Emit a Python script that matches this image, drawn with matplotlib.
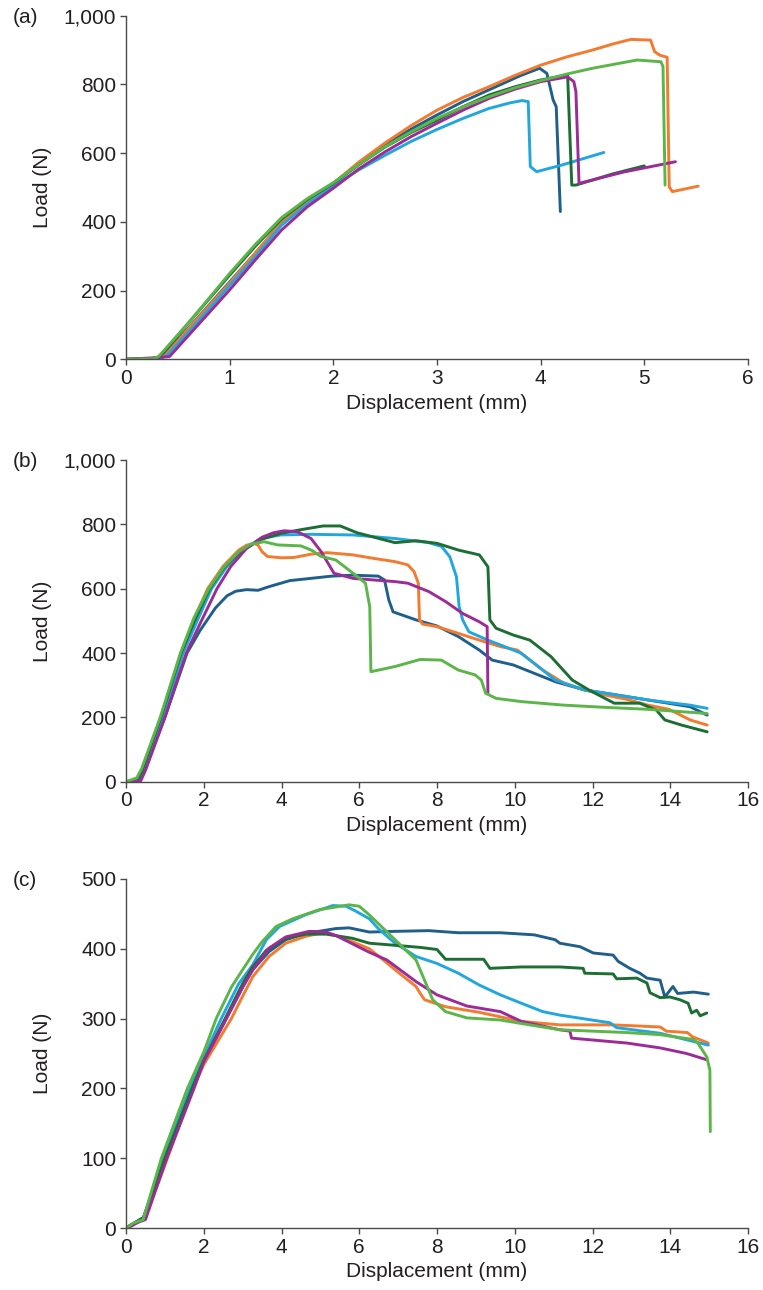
import matplotlib
matplotlib.use('Agg')
import matplotlib.pyplot as plt
from matplotlib.ticker import FuncFormatter

plt.rcParams['font.family'] = ['Liberation Sans', 'DejaVu Sans']
plt.rcParams['font.size'] = 15

# colours of the six specimens
DBLUE = '#1f5f8b'
ORANGE = '#f37a2e'
LBLUE = '#22a6de'
DGREEN = '#1c6e34'
PURPLE = '#9b2c97'
LGREEN = '#5bb548'

# ---- panel (a) ----
A_DBLUE_X = [0, 0.3, 0.35, 0.6, 1.0, 1.25, 1.5, 1.75, 2.0, 2.25, 2.5, 2.75, 3.0, 3.25, 3.5, 3.8, 3.99,
             4.06, 4.12, 4.15, 4.19]
A_DBLUE_Y = [0, 3, 10, 90, 225, 310, 398, 460, 512, 572, 625, 670, 711, 750, 784, 825, 847,
             832, 755, 735, 430]
A_ORANGE_X = [0, 0.32, 0.38, 0.6, 1.0, 1.25, 1.5, 1.75, 2.0, 2.25, 2.5, 2.75, 3.0, 3.25, 3.5, 3.75, 4.0,
              4.25, 4.5, 4.7, 4.87, 5.06, 5.10, 5.15, 5.22, 5.24, 5.27, 5.52]
A_ORANGE_Y = [0, 3, 12, 88, 222, 310, 398, 460, 512, 575, 630, 680, 725, 762, 793, 826, 856,
              880, 900, 918, 931, 929, 895, 885, 879, 502, 488, 504]
A_LBLUE_X = [0, 0.34, 0.4, 0.65, 1.0, 1.25, 1.5, 1.75, 2.0, 2.25, 2.5, 2.75, 3.0, 3.25, 3.5, 3.7, 3.82,
             3.88, 3.90, 3.96, 4.2, 4.61]
A_LBLUE_Y = [0, 3, 12, 95, 215, 300, 390, 452, 505, 552, 594, 634, 669, 701, 730, 746, 753,
             750, 561, 546, 565, 602]
A_DGREEN_X = [0, 0.28, 0.33, 0.6, 1.0, 1.25, 1.5, 1.75, 2.0, 2.25, 2.5, 2.75, 3.0, 3.25, 3.5, 3.75, 4.0,
              4.26, 4.30, 4.34, 4.7, 5.0]
A_DGREEN_Y = [0, 2, 10, 105, 245, 330, 408, 465, 512, 567, 618, 660, 696, 735, 769, 793, 813,
              827, 507, 507, 540, 563]
A_PURPLE_X = [0, 0.3, 0.42, 0.65, 1.0, 1.25, 1.5, 1.75, 2.0, 2.25, 2.5, 2.75, 3.0, 3.25, 3.5, 3.75, 4.0,
              4.26, 4.32, 4.34, 4.37, 4.8, 5.3]
A_PURPLE_Y = [0, 5, 8, 85, 202, 290, 376, 444, 498, 555, 604, 648, 687, 725, 759, 786, 808,
              822, 808, 779, 512, 545, 575]
A_LGREEN_X = [0, 0.28, 0.32, 0.6, 1.0, 1.25, 1.5, 1.75, 2.0, 2.25, 2.5, 2.75, 3.0, 3.25, 3.5, 3.75, 4.0,
              4.25, 4.5, 4.75, 4.93, 5.16, 5.18, 5.20]
A_LGREEN_Y = [0, 2, 10, 105, 250, 335, 412, 468, 514, 568, 619, 662, 701, 735, 764, 790, 811,
              830, 847, 861, 871, 866, 852, 507]

# ---- panel (b) ----
B_DBLUE_X = [0, 0.35, 0.48, 1.0, 1.57, 1.91, 2.3, 2.6, 2.82, 3.1, 3.4, 3.67, 4.21, 4.75, 5.29, 5.84, 6.49,
             6.65, 6.76, 6.87, 7.46, 8.0, 8.55, 9.09, 9.42, 9.96, 10.5, 11.04, 11.8, 12.34, 13.43, 14.51, 14.95]
B_DBLUE_Y = [0, 3, 35, 200, 400, 471, 540, 578, 592, 597, 595, 606, 625, 632, 639, 642, 639,
             627, 565, 528, 503, 484, 451, 409, 378, 363, 337, 311, 285, 275, 254, 233, 207]
B_ORANGE_X = [0, 0.3, 0.42, 0.9, 1.42, 1.75, 2.1, 2.5, 2.9, 3.1, 3.29, 3.4, 3.5, 3.64, 4.0, 4.32, 4.75,
              5.18, 5.84, 6.38, 6.92, 7.25, 7.41, 7.52, 7.55, 7.63, 8.0, 8.55, 9.09, 9.63, 10.07, 10.17,
              10.72, 11.27, 11.8, 12.34, 12.88, 13.43, 13.97, 14.51, 14.95]
B_ORANGE_Y = [0, 5, 40, 200, 400, 505, 600, 670, 720, 735, 741, 735, 715, 700, 696, 697, 707,
              712, 705, 694, 684, 674, 653, 617, 503, 490, 482, 461, 440, 420, 409, 399,
              347, 306, 285, 269, 256, 238, 225, 192, 176]
B_LBLUE_X = [0, 0.32, 0.45, 0.95, 1.47, 1.85, 2.2, 2.6, 3.0, 3.47, 3.98, 4.75, 5.84, 6.92, 7.79, 8.12,
             8.33, 8.5, 8.57, 8.66, 8.82, 9.31, 9.74, 10.17, 10.72, 11.04, 11.8, 12.34, 13.43, 14.51, 14.95]
B_LBLUE_Y = [0, 3, 35, 200, 400, 505, 600, 670, 720, 756, 767, 769, 767, 756, 743, 731,
             699, 637, 544, 503, 466, 440, 420, 399, 347, 316, 285, 275, 254, 238, 228]
B_DGREEN_X = [0, 0.3, 0.42, 0.9, 1.42, 1.78, 2.15, 2.5, 2.9, 3.47, 3.99, 4.53, 5.07, 5.51, 5.94, 6.38,
              6.92, 7.46, 8.0, 8.55, 9.09, 9.31, 9.36, 9.52, 9.96, 10.39, 10.93, 11.48, 11.91, 12.56,
              13.21, 13.64, 13.86, 14.29, 14.95]
B_DGREEN_Y = [0, 5, 35, 200, 400, 505, 600, 662, 712, 753, 772, 784, 795, 795, 774, 760,
              743, 749, 741, 720, 705, 668, 503, 477, 456, 440, 389, 316, 285, 244,
              244, 223, 192, 176, 155]
B_PURPLE_X = [0, 0.38, 0.5, 1.0, 1.55, 1.9, 2.34, 2.7, 3.1, 3.5, 3.8, 4.07, 4.41, 4.76, 5.02, 5.35, 5.84,
              6.38, 6.92, 7.25, 7.79, 8.22, 8.66, 9.09, 9.29, 9.31]
B_PURPLE_Y = [0, 3, 35, 200, 400, 490, 600, 670, 725, 760, 774, 780, 777, 756, 715, 648, 632,
              627, 622, 617, 591, 560, 523, 497, 482, 275]
B_LGREEN_X = [0, 0.28, 0.4, 0.88, 1.4, 1.75, 2.13, 2.5, 2.9, 3.2, 3.55, 3.9, 4.5, 4.8, 5.0, 5.4, 5.84,
              6.16, 6.27, 6.3, 6.92, 7.57, 8.11, 8.55, 8.98, 9.14, 9.25, 9.52, 10.17, 11.26, 12.34,
              13.43, 14.95]
B_LGREEN_Y = [0, 12, 40, 200, 400, 510, 600, 665, 715, 738, 746, 736, 733, 718, 701, 689, 648,
              617, 544, 342, 358, 380, 378, 347, 332, 316, 275, 259, 249, 238, 231,
              225, 212]

# ---- panel (c) ----
C_DBLUE_X = [0, 0.15, 0.3, 0.45, 1.0, 1.7, 2.0, 2.58, 3.0, 3.26, 3.68, 4.11, 4.63, 5.4, 5.74, 6.26, 6.92,
             7.79, 8.55, 9.63, 10.5, 11.04, 11.16, 11.68, 12.02, 12.53, 12.66, 12.96, 13.22, 13.4, 13.74,
             13.81, 13.86, 14.07, 14.19, 14.6, 14.98]
C_DBLUE_Y = [0, 5, 10, 15, 100, 200, 238, 300, 345, 370, 396, 413, 422, 429, 430, 424, 425,
             426, 423, 423, 420, 413, 408, 403, 394, 391, 382, 372, 365, 358, 355,
             341, 331, 346, 336, 338, 335]
C_ORANGE_X = [0, 0.15, 0.3, 0.48, 1.0, 1.72, 2.0, 2.71, 3.0, 3.26, 3.68, 4.11, 4.63, 5.06, 5.4, 5.83,
              6.26, 6.6, 6.92, 7.46, 7.57, 7.68, 8.22, 9.09, 10.17, 11.16, 12.53, 13.74, 13.9, 14.44,
              14.57, 14.98]
C_ORANGE_Y = [0, 5, 8, 15, 90, 200, 234, 300, 332, 360, 389, 408, 418, 423, 419, 410,
              400, 385, 370, 346, 336, 327, 317, 309, 296, 291, 291, 288, 282, 280,
              274, 265]
C_LBLUE_X = [0, 0.15, 0.3, 0.45, 0.95, 1.65, 2.0, 2.45, 2.9, 3.26, 3.61, 3.95, 4.63, 5.32, 5.66, 5.91,
             6.26, 6.49, 6.92, 7.46, 8.0, 8.55, 9.09, 9.63, 10.17, 10.72, 11.16, 12.45, 12.62, 13.74,
             14.98]
C_LBLUE_Y = [0, 5, 8, 14, 100, 200, 245, 300, 350, 377, 413, 432, 449, 462, 461, 454,
             443, 429, 408, 389, 379, 365, 348, 334, 322, 310, 305, 294, 287, 279,
             262]
C_DGREEN_X = [0, 0.15, 0.3, 0.45, 1.0, 1.7, 2.0, 2.55, 3.0, 3.26, 3.61, 4.11, 4.63, 5.15, 5.83, 6.26,
              6.92, 7.57, 8.0, 8.22, 9.2, 9.36, 10.17, 11.16, 11.76, 11.8, 12.53, 12.62, 13.14, 13.4,
              13.48, 13.74, 13.99, 14.25, 14.46, 14.55, 14.68, 14.77, 14.94]
C_DGREEN_Y = [0, 5, 10, 15, 100, 200, 240, 300, 350, 374, 398, 415, 421, 421, 415, 408,
              405, 402, 399, 385, 385, 372, 374, 374, 372, 365, 364, 357, 358, 351,
              337, 330, 331, 327, 322, 308, 312, 304, 308]
C_PURPLE_X = [0, 0.15, 0.3, 0.5, 1.05, 1.75, 2.0, 2.58, 3.0, 3.26, 3.68, 4.11, 4.71, 5.15, 5.4, 5.83,
              6.26, 6.71, 7.46, 8.0, 8.77, 9.63, 10.17, 11.16, 11.42, 11.46, 12.88, 13.74, 14.42, 14.94]
C_PURPLE_Y = [0, 3, 8, 12, 100, 200, 238, 300, 345, 370, 401, 417, 425, 424, 419, 407,
              395, 384, 353, 334, 318, 310, 296, 284, 282, 272, 265, 258, 250, 241]
C_LGREEN_X = [0, 0.19, 0.44, 0.91, 1.58, 2.0, 2.32, 2.71, 3.0, 3.26, 3.5, 3.86, 4.29, 4.97, 5.74, 6.0,
              6.27, 6.92, 7.46, 7.89, 8.22, 8.77, 9.63, 10.17, 11.16, 12.88, 13.74, 14.6, 14.71, 14.94,
              15.02, 15.03]
C_LGREEN_Y = [0, 7, 12, 100, 200, 252, 300, 345, 370, 392, 410, 432, 443, 456, 463, 461,
              448, 413, 384, 327, 310, 301, 298, 293, 284, 280, 277, 270, 265, 245,
              226, 138]

panels = [
    ('(a)', 6, 1000, range(0, 7), range(0, 1001, 200),
     [(A_DBLUE_X, A_DBLUE_Y, DBLUE), (A_ORANGE_X, A_ORANGE_Y, ORANGE), (A_LBLUE_X, A_LBLUE_Y, LBLUE),
      (A_DGREEN_X, A_DGREEN_Y, DGREEN), (A_PURPLE_X, A_PURPLE_Y, PURPLE), (A_LGREEN_X, A_LGREEN_Y, LGREEN)]),
    ('(b)', 16, 1000, range(0, 17, 2), range(0, 1001, 200),
     [(B_DBLUE_X, B_DBLUE_Y, DBLUE), (B_ORANGE_X, B_ORANGE_Y, ORANGE), (B_LBLUE_X, B_LBLUE_Y, LBLUE),
      (B_DGREEN_X, B_DGREEN_Y, DGREEN), (B_PURPLE_X, B_PURPLE_Y, PURPLE), (B_LGREEN_X, B_LGREEN_Y, LGREEN)]),
    ('(c)', 16, 500, range(0, 17, 2), range(0, 501, 100),
     [(C_DBLUE_X, C_DBLUE_Y, DBLUE), (C_ORANGE_X, C_ORANGE_Y, ORANGE), (C_LBLUE_X, C_LBLUE_Y, LBLUE),
      (C_DGREEN_X, C_DGREEN_Y, DGREEN), (C_PURPLE_X, C_PURPLE_Y, PURPLE), (C_LGREEN_X, C_LGREEN_Y, LGREEN)]),
]

# axes boxes in pixels: top, bottom
W, H = 763, 1290
boxes = [(15.7, 359.3), (460, 781.7), (879, 1228)]
left, right = 126, 748

fig = plt.figure(figsize=(W / 100, H / 100), dpi=100)
axcol = '#4a4a4a'
txtcol = '#231f20'

for (tag, xmax, ymax, xt, yt, series), (top, bot) in zip(panels, boxes):
    ax = fig.add_axes([left / W, 1 - bot / H, (right - left) / W, (bot - top) / H])
    for xs, ys, c in series:
        ax.plot(xs, ys, color=c, lw=2.1, solid_joinstyle='round', solid_capstyle='round')
    ax.set_xlim(0, xmax)
    ax.set_ylim(0, ymax)
    ax.set_xticks(list(xt))
    ax.set_yticks(list(yt))
    ax.yaxis.set_major_formatter(FuncFormatter(lambda v, p: f'{int(v):,}'))
    for s in ['top', 'right']:
        ax.spines[s].set_visible(False)
    for s in ['left', 'bottom']:
        ax.spines[s].set_color(axcol)
        ax.spines[s].set_linewidth(1.0)
    ax.tick_params(direction='out', length=4, width=1.0, color=axcol, labelcolor=txtcol,
                   labelsize=15, pad=3)
    ax.set_xlabel('Displacement (mm)', fontsize=15, color=txtcol, labelpad=4)
    ax.set_ylabel('Load (N)', fontsize=15, color=txtcol)
    ax.yaxis.set_label_coords(-0.135, 0.5)
    ax.yaxis.label.set_va('center')
    fig.text(13 / W, 1 - (top + 2) / H, tag, fontsize=15, color=txtcol, ha='left', va='center')

fig.savefig('out.png', dpi=100)
